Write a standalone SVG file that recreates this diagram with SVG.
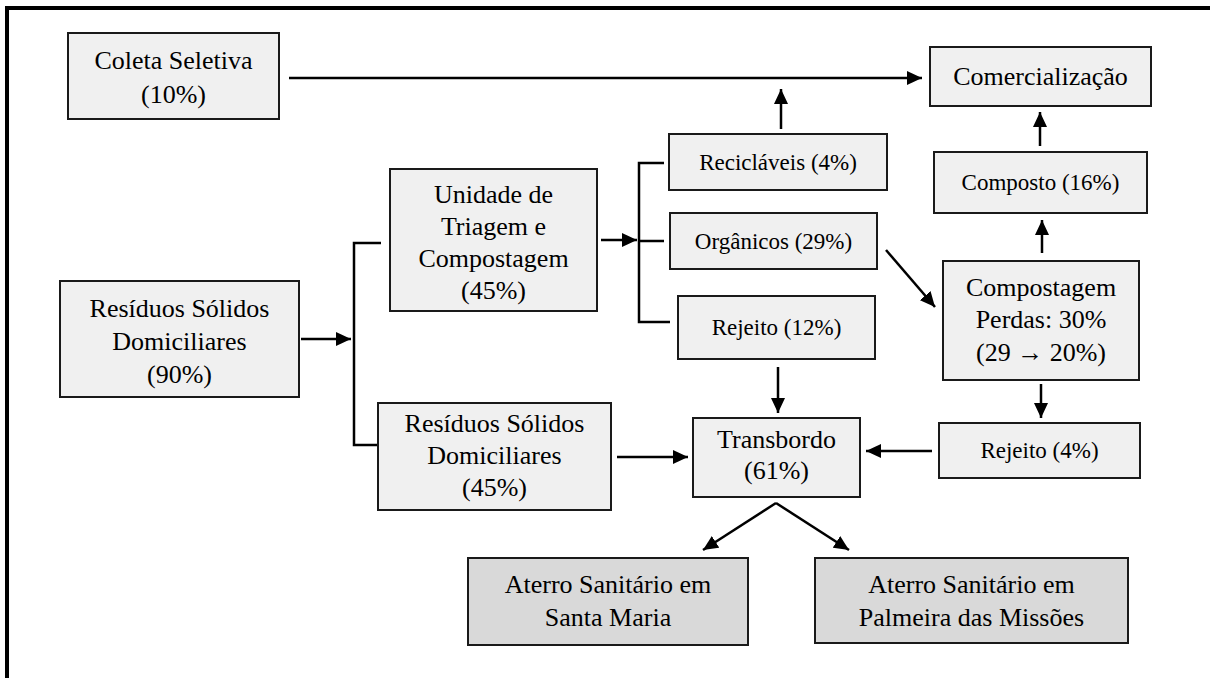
<svg xmlns="http://www.w3.org/2000/svg" width="1210" height="678" viewBox="0 0 1210 678">
  <defs>
    <marker id="arrow" markerUnits="userSpaceOnUse" markerWidth="16" markerHeight="14" refX="15" refY="7" orient="auto">
      <path d="M0,0 L15,7 L0,14 z" fill="#000"/>
    </marker>
    <style>
      .box { fill: #f0f0f0; stroke: #1a1a1a; stroke-width: 2; }
      .box-dark { fill: #d9d9d9; stroke: #1a1a1a; stroke-width: 2; }
      .lbl { font-size: 26px; fill: #000; text-anchor: middle; }
      .sm { font-size: 23px; }
      .con { fill: none; stroke: #000; stroke-width: 2.5; }
      .arr { marker-end: url(#arrow); }
      .frame { stroke: #000; stroke-width: 4; fill: none; }
    </style>
  </defs>

  <rect width="1210" height="678" fill="#fff"/>

  <!-- outer frame (top and left rules) -->
  <g id="frame">
    <line class="frame" x1="5" y1="8" x2="1210" y2="8"/>
    <line class="frame" x1="7" y1="6" x2="7" y2="678"/>
  </g>

  <!-- connectors -->
  <g id="connectors">
    <path class="con arr" d="M289,78 H922"/>
    <path class="con arr" d="M301,339 H351"/>
    <path class="con" stroke-width="2" d="M381,243 H354 V445 H377"/>
    <path class="con arr" d="M601,240 H637"/>
    <path class="con" stroke-width="2" d="M664,163 H639 V322 H670 M639,241 H664"/>
    <path class="con arr" d="M781,129 V89"/>
    <path class="con arr" d="M886,250 L935,307"/>
    <path class="con arr" d="M778,367 V413"/>
    <path class="con arr" d="M617,457 H688"/>
    <path class="con arr" d="M932,451 H866"/>
    <path class="con arr" d="M1041,384 V418"/>
    <path class="con arr" d="M1042,253 V220"/>
    <path class="con arr" d="M1040,146 V112"/>
    <path class="con arr" d="M776,503 L703,550"/>
    <path class="con arr" d="M776,503 L849,550"/>
  </g>

  <g font-family="'Liberation Serif', 'Times New Roman', 'DejaVu Serif', serif">
  <g id="coleta">
    <rect class="box" x="68" y="33" width="211" height="86"/>
    <text class="lbl" x="173.5" y="69">Coleta Seletiva</text>
    <text class="lbl" x="173.5" y="103">(10%)</text>
  </g>

  <g id="comercializacao">
    <rect class="box" x="930" y="47" width="221" height="59"/>
    <text class="lbl" x="1040.5" y="85">Comercialização</text>
  </g>

  <g id="rsd90">
    <rect class="box" x="60" y="281" width="239" height="116"/>
    <text class="lbl" x="179.5" y="317">Resíduos Sólidos</text>
    <text class="lbl" x="179.5" y="350">Domiciliares</text>
    <text class="lbl" x="179.5" y="383">(90%)</text>
  </g>

  <g id="utc">
    <rect class="box" x="390" y="169" width="207" height="142"/>
    <text class="lbl" x="493.5" y="203">Unidade de</text>
    <text class="lbl" x="493.5" y="235">Triagem e</text>
    <text class="lbl" x="493.5" y="267">Compostagem</text>
    <text class="lbl" x="493.5" y="299">(45%)</text>
  </g>

  <g id="reciclaveis">
    <rect class="box" x="669" y="134" width="218" height="56"/>
    <text class="lbl sm" x="778" y="170">Recicláveis (4%)</text>
  </g>

  <g id="organicos">
    <rect class="box" x="670" y="213" width="207" height="56"/>
    <text class="lbl sm" x="773.5" y="249">Orgânicos (29%)</text>
  </g>

  <g id="rejeito12">
    <rect class="box" x="678" y="296" width="197" height="63"/>
    <text class="lbl sm" x="776.5" y="335">Rejeito (12%)</text>
  </g>

  <g id="composto">
    <rect class="box" x="934" y="152" width="213" height="61"/>
    <text class="lbl sm" x="1040.5" y="190">Composto (16%)</text>
  </g>

  <g id="compostagem">
    <rect class="box" x="943" y="261" width="196" height="119"/>
    <text class="lbl" x="1041" y="296">Compostagem</text>
    <text class="lbl" x="1041" y="328">Perdas: 30%</text>
    <text class="lbl" x="1041" y="361">(29 → 20%)</text>
  </g>

  <g id="rejeito4">
    <rect class="box" x="939" y="423" width="201" height="55"/>
    <text class="lbl sm" x="1039.5" y="458">Rejeito (4%)</text>
  </g>

  <g id="rsd45">
    <rect class="box" x="378" y="403" width="233" height="107"/>
    <text class="lbl" x="494.5" y="432">Resíduos Sólidos</text>
    <text class="lbl" x="494.5" y="464">Domiciliares</text>
    <text class="lbl" x="494.5" y="496">(45%)</text>
  </g>

  <g id="transbordo">
    <rect class="box" x="693" y="418" width="167" height="79"/>
    <text class="lbl" x="776.5" y="448">Transbordo</text>
    <text class="lbl" x="776.5" y="479">(61%)</text>
  </g>

  <g id="aterro-santa-maria">
    <rect class="box-dark" x="468" y="558" width="280" height="87"/>
    <text class="lbl" x="608" y="593">Aterro Sanitário em</text>
    <text class="lbl" x="608" y="626">Santa Maria</text>
  </g>

  <g id="aterro-palmeira">
    <rect class="box-dark" x="815" y="558" width="313" height="85"/>
    <text class="lbl" x="971.5" y="593">Aterro Sanitário em</text>
    <text class="lbl" x="971.5" y="626">Palmeira das Missões</text>
  </g>
  </g>
</svg>
